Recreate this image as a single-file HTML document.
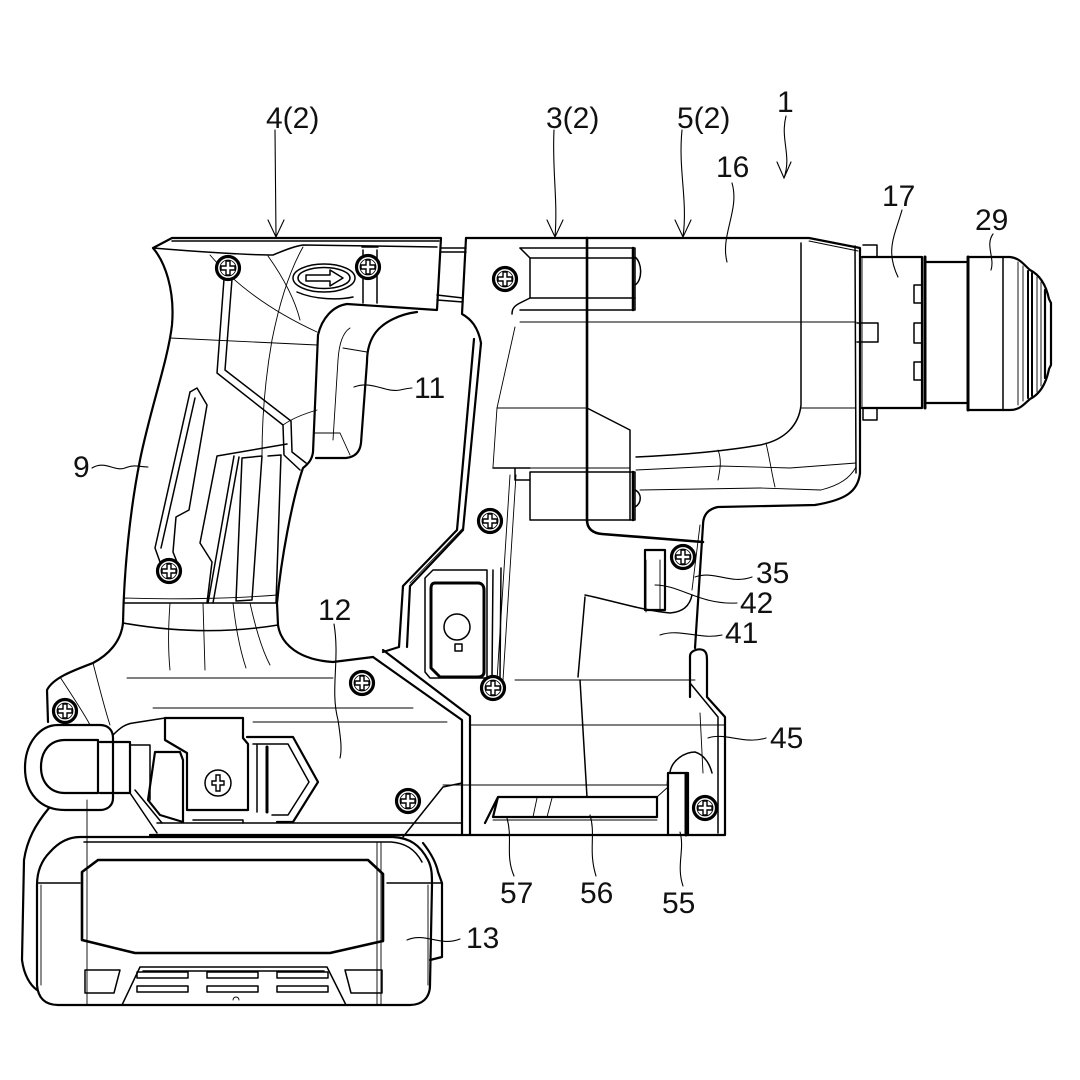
<!DOCTYPE html>
<html><head><meta charset="utf-8">
<style>
html,body{margin:0;padding:0;background:#fff;}
svg{display:block;}
text{font-family:"Liberation Sans",sans-serif;font-size:30px;fill:#111;}
</style></head><body>
<svg width="1080" height="1080" viewBox="0 0 1080 1080" xmlns="http://www.w3.org/2000/svg">
<defs>
<g id="scr">
 <circle r="11.5" fill="#fff" stroke="#000" stroke-width="3.2"/>
 <circle r="8" fill="none" stroke="#000" stroke-width="0.8"/>
 <path d="M-2,-7H2V-2H7V2H2V7H-2V2H-7V-2H-2Z" fill="none" stroke="#000" stroke-width="1.4"/>
</g>
</defs>
<rect width="1080" height="1080" fill="#fff"/>

<!-- ============ THICK OUTLINES ============ -->
<g fill="none" stroke="#000" stroke-width="2.2" stroke-linejoin="round" stroke-linecap="round">
 <!-- rear handle -->
 <path d="M123,623 C124,570 130,510 140,460 C150,410 168,360 172,325 C175,290 165,262 153,248 L172,238 L441,238 L437,310 L347,304"/>
 <path d="M417,312 C400,314 384,322 376,332 C369,341 367,352 367,362 L361,443 C360,452 355,457 346,458 L316,458"/>
 <path d="M347,304 C333,306 322,318 318,335 L313,452 C312,460 308,464 303,468 C292,500 281,560 277,603 L278,625 C281,645 300,660 333,662 L373,657"/>
 <path d="M123,623 C121,642 108,655 93,663 C72,671 53,678 47,690 L48,722"/>
 <!-- main housing -->
 <path d="M466,238 L809,238 L860,248 L860,473 C858,492 845,500 815,505 L718,507 C708,509 703,515 703,525 L695,648"/>
 <path d="M690,697 L690,656 C690,651 698,648 703,650 C707,652 707,656 707,662 L707,697 L725,717 L725,835 L150,835"/>
 <path d="M466,238 L462,314 C471,319 478,327 481,343 L463,530 L410,586 L407,647"/>
 <path d="M474,339 L457,530 L403,586 L399,647 L383,652"/>
 <path d="M373,657 L462,720 L462,835"/>
 <path d="M383,650 L470,716 L470,835"/>
 <path d="M587,238 L587,520 C587,528 592,533 602,534 L703,542" stroke-width="2.6"/>
 <!-- nose / chuck -->
 <path d="M862,257 L922,257 L922,408 L862,408"/>
 <path d="M925,257 L925,408" stroke-width="3"/>
 <path d="M927,262 L966,262 M927,403 L966,403"/>
 <path d="M968,257 L1010,257 C1020,258 1024,265 1030,270 C1040,275 1046,285 1049,299 L1051,303 L1051,365 L1049,369 C1046,384 1040,394 1030,399 C1024,404 1020,410 1010,410 L968,410 Z"/>
 <path d="M968,257 L968,410" stroke-width="3"/>
 <!-- battery -->
 <path d="M80,837 L393,837 C410,838 420,845 428,860 C432,868 432,875 432,885 L430,985 C430,998 422,1005 410,1005 L58,1005 C45,1005 38,998 37,985 L37,885 C37,870 42,860 50,852 C58,843 68,837 80,837 Z"/>
 <path d="M98,860 L368,860 L383,874 L383,941 L330,953 L135,953 L82,940 L82,872 Z" stroke-width="2.6"/>
 <path d="M49,808 C35,825 27,840 24,860 L22,960 C24,975 30,985 37,990"/>
 <path d="M423,843 C430,852 436,862 438,872 L442,883 L442,957 L430,960"/>
 <!-- loop -->
 <path d="M58,725 L100,725 C108,725 113,730 113,738 L113,798 C113,805 108,810 100,810 L65,810 C40,810 25,793 25,768 C25,743 40,725 58,725 Z"/>
 <path d="M65,740 L98,740 L98,793 L65,793 C50,793 41,782 41,767 C41,751 50,740 65,740 Z"/>
 <path d="M100,742 L130,742 L130,793 L100,793"/>
 <!-- LED box -->
 <path d="M435,583 L478,583 C482,583 484,586 484,590 L484,672 C484,675 482,677 478,677 L440,677 L431,668 L431,589 C431,585 432,583 435,583 Z" stroke-width="3"/>
 <!-- switch 42 -->
 <path d="M645,550 L665,550 L665,610 L645,610 Z"/>
 <!-- bar 56/57 -->
 <path d="M498,797 L657,797 L657,817 L493,817 Z M485,823 L498,797"/>
 <!-- slot 55 -->
 <path d="M668,773 L688,773 L688,835 M668,773 L668,835"/>
 <path d="M686,774 L686,835" stroke-width="3"/>
 <!-- latch -->
 <path d="M165,718 L243,718 L243,738 L248,744 L248,810 L187,810 L187,753 L165,740 Z"/>
 <path d="M247,737 L293,737 L318,782 L293,822 L277,822"/>
 <path d="M155,752 L180,752 L183,760 L183,822 L160,815 L148,800 Z"/>
 <path d="M267,747 L267,812" stroke-width="3"/>
</g>

<!-- ============ MEDIUM LINES ============ -->
<g fill="none" stroke="#000" stroke-width="1.5" stroke-linejoin="round" stroke-linecap="round">
 <!-- handle zigzag -->
 <path d="M224,279 L217,373 L283,425 L284,455 L300,470"/>
 <path d="M232,279 L225,370 L291,421 L292,452 L306,463"/>
 <path d="M287,444 L217,456 L200,543 L212,562 L207,603"/>
 <!-- rear slot -->
 <path d="M190,392 L197,388 L207,405 L189,510 L176,517 L173,552 L177,562"/>
 <path d="M190,392 L155,548 L160,562"/>
 <path d="M195,398 L161,548"/>
 <!-- grip slots -->
 <path d="M234,456 L208,603 M239,457 L213,603"/>
 <path d="M242,458 L262,456 L252,600 L236,601 Z"/>
 <path d="M268,456 L281,455 L276,603"/>
 <!-- arrow button -->
 <ellipse cx="324" cy="278" rx="31" ry="14"/>
 <ellipse cx="324" cy="278" rx="26" ry="10.5"/>
 <path d="M306,275 L330,275 L330,270 L343,278 L330,286 L330,281 L306,281 Z"/>
 <path d="M297,292 C315,300 340,300 353,297"/>
 <!-- handle cap -->
 <path d="M153,248 C200,252 250,255 273,255 C285,250 295,246 303,245 L437,247"/>
 <path d="M172,241 L439,241"/>
 <path d="M363,250 L363,303 M377,250 L377,303 M362,247 L378,247"/>
 <!-- connector -->
 <path d="M441,248 L466,248 M441,252 L466,252 M437,295 L463,298 M437,300 L463,302"/>
 <!-- upper box -->
 <path d="M520,248 L635,248 L635,310 L520,310"/>
 <path d="M520,248 L530,258 L530,298 L520,303 C514,306 512,309 512,314"/>
 <path d="M530,258 L635,258 M530,298 L635,298"/>
 <path d="M635,257 C642,262 643,280 635,285"/>
 <path d="M633,248 L633,310" stroke-width="2.5"/>
 <!-- lower box -->
 <path d="M530,472 L635,472 L635,520 L530,520 Z"/>
 <path d="M633,472 L633,520" stroke-width="2.5"/>
 <path d="M635,490 C642,493 642,503 635,507"/>
 <path d="M493,468 L530,468 M515,468 L515,480 L530,480"/>
 <!-- inner housing lines -->
 <path d="M587,408 L630,430 L630,520"/>
 <path d="M801,243 L801,405 C799,425 785,440 760,445 C720,452 680,455 636,457"/>
 <!-- front plate -->
 <path d="M855,246 L856,473"/>
 <path d="M863,245 L877,245 L877,257 M863,408 L863,420 L877,420 L877,408"/>
 <path d="M857,323 L878,323 L878,342 L857,342"/>
 <path d="M914,285 L922,285 M914,285 L914,303 L922,303"/>
 <path d="M914,323 L922,323 M914,323 L914,343 L922,343"/>
 <path d="M914,362 L922,362 M914,362 L914,380 L922,380"/>
 <!-- LED box outer -->
 <path d="M433,570 L487,570 L487,678 L430,678 L425,672 L425,578 Z"/>
 <circle cx="457" cy="627" r="13"/>
 <rect x="455" y="644" width="7" height="7"/>
 <path d="M493,570 L492,678 M501,568 L500,678"/>
 <!-- 41 / 45 region -->
 <path d="M585,595 C610,600 640,610 670,613 C684,612 690,605 692,595"/>
 <path d="M585,597 L578,677 M580,680 L587,797"/>
 <path d="M690,683 L718,717 L718,833"/>
 <path d="M670,772 C672,760 685,752 695,752 C705,755 710,765 712,773"/>
 <!-- latch inner -->
 <path d="M257,745 L257,812"/>
 <path d="M253,744 L288,744 L309,782 L288,815 L272,815"/>
 <path d="M193,820 L243,820 L243,823"/>
 <circle cx="218" cy="783" r="13"/>
 <!-- left base -->
 <path d="M130,793 L157,833 M135,790 L162,823"/>
 <path d="M157,823 L462,823"/>
 <path d="M443,787 L403,837 M443,787 L462,783"/>
 <path d="M113,735 C120,728 125,724 133,723 L165,718"/>
 <path d="M130,745 L150,745 L150,800"/>
 <!-- battery -->
 <path d="M84,842 L391,842 C405,843 415,849 422,862"/>
 <path d="M37,883 L80,883 M387,883 L442,883"/>
 <path d="M85,970 L120,970 L114,993 L85,993 Z"/>
 <path d="M345,970 L382,970 L382,993 L351,993 Z"/>
 <path d="M140,967 L327,967 L346,1005 M140,967 L122,1005"/>
 <path d="M143,971 L324,971"/>
 <path d="M137,972 L188,972 L188,978 L137,978 Z M207,972 L258,972 L258,978 L207,978 Z M277,972 L328,972 L328,978 L277,978 Z"/>
 <path d="M137,986 L188,986 L188,992 L137,992 Z M207,986 L258,986 L258,992 L207,992 Z M277,986 L328,986 L328,992 L277,992 Z"/>
 <!-- chuck rings -->
 <path d="M1003,258 L1003,409"/>
 <path d="M1028,271 L1028,398 M1032,273 L1032,396" stroke-width="2"/>
 <path d="M1045,290 L1045,378" stroke-width="2.2"/>
 <!-- grip bottom band -->
 <path d="M124,603 L277,603"/>
 <path d="M123,623 C180,633 230,633 278,625"/>
</g>

<!-- ============ THIN LINES ============ -->
<g fill="none" stroke="#000" stroke-width="0.9" stroke-linejoin="round" stroke-linecap="round">
 <path d="M170,338 L317,345"/>
 <path d="M210,255 C240,290 280,315 317,332"/>
 <path d="M268,256 C285,280 295,300 300,320"/>
 <path d="M303,247 C290,270 280,300 272,340 C265,380 262,420 262,455"/>
 <path d="M317,410 C300,415 290,420 283,425"/>
 <path d="M350,328 C342,333 339,345 338,360 L333,440"/>
 <path d="M315,433 L340,433 L350,455"/>
 <path d="M343,348 L367,352"/>
 <path d="M124,598 C180,600 240,598 277,595"/>
 <path d="M170,603 C168,630 168,650 170,670 M203,603 L205,670 M233,603 C236,630 240,650 246,668 M250,603 C256,630 262,650 270,665"/>
 <path d="M127,678 L333,678 M153,708 L413,708 M253,722 L447,722"/>
 <path d="M93,663 C100,690 105,710 110,725 M60,677 C75,700 85,715 90,725"/>
 <path d="M37,883 L37,985"/>
 <path d="M87,800 L87,1005 M377,842 L377,1005 M381,842 L381,1005"/>
 <path d="M41,885 L41,985 M428,885 L428,985"/>
 <path d="M520,322 L856,322"/>
 <path d="M497,408 L587,408 M801,408 L856,408"/>
 <path d="M493,468 L630,468"/>
 <path d="M636,470 L720,466 L790,468 L856,463"/>
 <path d="M640,490 L760,488 L821,490 C840,485 850,478 856,467"/>
 <path d="M718,450 C722,460 720,470 718,480 M766,443 C770,460 772,475 775,487"/>
 <path d="M515,327 L497,408 L493,467"/>
 <path d="M516,475 L503,680 M510,475 L497,680"/>
 <path d="M809,241 L858,251"/>
 <path d="M862,257 L862,408"/>
 <path d="M1018,262 L1018,405 M1023,266 L1023,401 M1037,277 L1037,392 M1041,282 L1041,386"/>
 <path d="M515,680 L695,680"/>
 <path d="M470,725 L725,725"/>
 <path d="M443,785 L667,785 L668,773"/>
 <path d="M657,797 L668,787"/>
 <path d="M493,820 L657,820"/>
 <path d="M537,798 L533,817 M552,798 L547,817"/>
 <path d="M700,713 L703,773"/>
 <path d="M463,528 L410,583"/>
 <path d="M646,612 L646,560 M660,560 L660,612"/>
 <path d="M700,525 L692,590"/>
 <path d="M233,1000 a3,3 0 0 1 6,0"/>
</g>

<!-- screws -->
<use href="#scr" x="228" y="268"/>
<use href="#scr" x="368" y="267"/>
<use href="#scr" x="169" y="571"/>
<use href="#scr" x="505" y="279"/>
<use href="#scr" x="490" y="521"/>
<use href="#scr" x="683" y="557"/>
<use href="#scr" x="493" y="688"/>
<use href="#scr" x="362" y="683"/>
<use href="#scr" x="65" y="711"/>
<use href="#scr" x="408" y="801"/>
<use href="#scr" x="705" y="808"/>
<g fill="none" stroke="#000" stroke-width="1.4">
 <path d="M216,781H220V775H224V781H228V785H224V791H220V785H216Z" transform="translate(-4,0)"/>
</g>

<!-- leaders & arrows -->
<g fill="none" stroke="#000" stroke-width="1.1" stroke-linecap="round">
 <path d="M275,130 L276,237 M268,220 L276,237 L284,220"/>
 <path d="M554,130 C552,170 558,200 555,237 M547,220 L555,237 L563,220"/>
 <path d="M682,130 C678,170 688,200 683,237 M675,220 L683,237 L691,220"/>
 <path d="M786,116 C780,140 792,155 784,178 M777,162 L784,178 L791,162"/>
 <path d="M732,183 C740,210 720,235 727,262"/>
 <path d="M902,210 C895,235 885,250 898,277"/>
 <path d="M993,234 C985,245 995,258 991,270"/>
 <path d="M354,387 C372,380 385,393 400,390 C405,389 409,388 412,388"/>
 <path d="M92,468 C105,460 115,472 125,468 C135,464 140,467 148,467"/>
 <path d="M334,624 C340,660 330,690 338,720 C341,740 342,750 340,758"/>
 <path d="M695,577 C715,570 730,585 752,577"/>
 <path d="M655,585 C680,585 700,605 737,603"/>
 <path d="M660,635 C680,628 700,640 722,635"/>
 <path d="M708,738 C725,732 745,745 766,738"/>
 <path d="M507,818 C513,840 505,855 514,876"/>
 <path d="M590,815 C596,835 588,850 596,876"/>
 <path d="M680,832 C685,850 676,865 683,886"/>
 <path d="M407,940 C425,932 440,947 460,939"/>
</g>

<!-- labels -->
<text x="266" y="128">4(2)</text>
<text x="546" y="128">3(2)</text>
<text x="677" y="128">5(2)</text>
<text x="777" y="112">1</text>
<text x="716" y="177">16</text>
<text x="882" y="206">17</text>
<text x="975" y="230">29</text>
<text x="414" y="398">11</text>
<text x="73" y="477">9</text>
<text x="318" y="620">12</text>
<text x="756" y="583">35</text>
<text x="740" y="613">42</text>
<text x="725" y="643">41</text>
<text x="770" y="748">45</text>
<text x="500" y="903">57</text>
<text x="580" y="903">56</text>
<text x="662" y="913">55</text>
<text x="466" y="948">13</text>
</svg>
</body></html>
